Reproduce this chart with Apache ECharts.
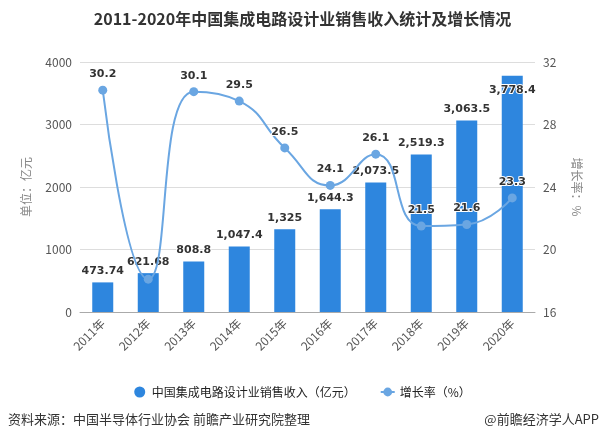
<!DOCTYPE html>
<html>
<head>
<meta charset="utf-8">
<script src="https://cdn.jsdelivr.net/npm/echarts@6/dist/echarts.min.js"></script>
<style>
  html, body { margin: 0; padding: 0; background: #fff; }
  #chart { width: 605px; height: 438px; }
</style>
</head>
<body>
<div id="chart"></div>
<script>
var years = ['2011年', '2012年', '2013年', '2014年', '2015年', '2016年', '2017年', '2018年', '2019年', '2020年'];
var revenue = [473.74, 621.68, 808.8, 1047.4, 1325, 1644.3, 2073.5, 2519.3, 3063.5, 3778.4];
var growth = [30.2, 18.1, 30.1, 29.5, 26.5, 24.1, 26.1, 21.5, 21.6, 23.3];
var revenueLabels = ['473.74', '621.68', '808.8', '1,047.4', '1,325', '1,644.3', '2,073.5', '2,519.3', '3,063.5', '3,778.4'];

var FONT = '"Noto Sans CJK SC", "Noto Sans", sans-serif';
var LABEL_FONT = '"DejaVu Sans", sans-serif';
var chart = echarts.init(document.getElementById('chart'));

chart.setOption({
  animation: false,
  textStyle: { fontFamily: FONT },
  title: {
    text: '2011-2020年中国集成电路设计业销售收入统计及增长情况',
    left: 'center',
    top: 6,
    textStyle: { fontSize: 16, fontWeight: 'bold', color: '#333', fontFamily: FONT }
  },
  legend: {
    bottom: 35,
    itemGap: 24,
    itemWidth: 14,
    itemHeight: 11,
    textStyle: { fontSize: 12, color: '#222' },
    data: [
      { name: '中国集成电路设计业销售收入（亿元）', icon: 'circle' },
      { name: '增长率（%）' }
    ]
  },
  graphic: [
    {
      type: 'text', left: 8, bottom: 12,
      style: { text: '资料来源：中国半导体行业协会 前瞻产业研究院整理', fontSize: 13, fill: '#333', fontFamily: FONT }
    },
    {
      type: 'text', right: 6, bottom: 12,
      style: { text: '@前瞻经济学人APP', fontSize: 13, fill: '#333', fontFamily: FONT }
    }
  ],
  grid: { left: 80, right: 70, top: 62, bottom: 126 },
  xAxis: {
    type: 'category',
    data: years,
    axisLine: { lineStyle: { color: '#aaa' } },
    axisTick: { alignWithLabel: true, lineStyle: { color: '#aaa' } },
    axisLabel: { rotate: 45, color: '#555', fontSize: 12, margin: 9 }
  },
  yAxis: [
    {
      type: 'value',
      min: 0, max: 4000, interval: 1000,
      name: '单位：亿元',
      nameLocation: 'middle',
      nameRotate: 90,
      nameGap: 48,
      nameTextStyle: { color: '#888', fontSize: 12 },
      axisLine: { show: false },
      axisTick: { show: false },
      axisLabel: { color: '#555', fontSize: 12, formatter: function (v) { return String(v); } },
      splitLine: { lineStyle: { color: '#ddd' } }
    },
    {
      type: 'value',
      min: 16, max: 32, interval: 4,
      name: '增长率：%',
      nameLocation: 'middle',
      nameRotate: -90,
      nameGap: 36,
      nameTextStyle: { color: '#888', fontSize: 12 },
      axisLine: { show: false },
      axisTick: { show: false },
      axisLabel: { color: '#555', fontSize: 12 },
      splitLine: { show: false }
    }
  ],
  series: [
    {
      name: '中国集成电路设计业销售收入（亿元）',
      type: 'bar',
      barWidth: 21,
      data: revenue.map(function (v, i) {
        // last bar's label sits just inside the bar top, as in the source
        return i === revenue.length - 1 ? { value: v, label: { position: 'insideTop', distance: 9 } } : v;
      }),
      itemStyle: { color: '#2e86de' },
      label: {
        show: true,
        position: 'top',
        distance: 6,
        color: '#333',
        fontWeight: 'bold',
        fontSize: 11,
        fontFamily: LABEL_FONT,
        textBorderColor: '#fff',
        textBorderWidth: 2,
        formatter: function (p) { return revenueLabels[p.dataIndex]; }
      },
      z: 2
    },
    {
      name: '增长率（%）',
      type: 'line',
      yAxisIndex: 1,
      smooth: true,
      symbol: 'circle',
      symbolSize: 9,
      data: growth.map(function (v, i) {
        return i === 1 ? { value: v, label: { show: false } } : v;
      }),
      lineStyle: { color: '#6aa6e2', width: 2 },
      itemStyle: { color: '#6aa6e2' },
      label: {
        show: true,
        position: 'top',
        distance: 6,
        color: '#333',
        fontWeight: 'bold',
        fontSize: 11,
        fontFamily: LABEL_FONT,
        textBorderColor: '#fff',
        textBorderWidth: 2
      },
      z: 3
    }
  ]
});
</script>
</body>
</html>
